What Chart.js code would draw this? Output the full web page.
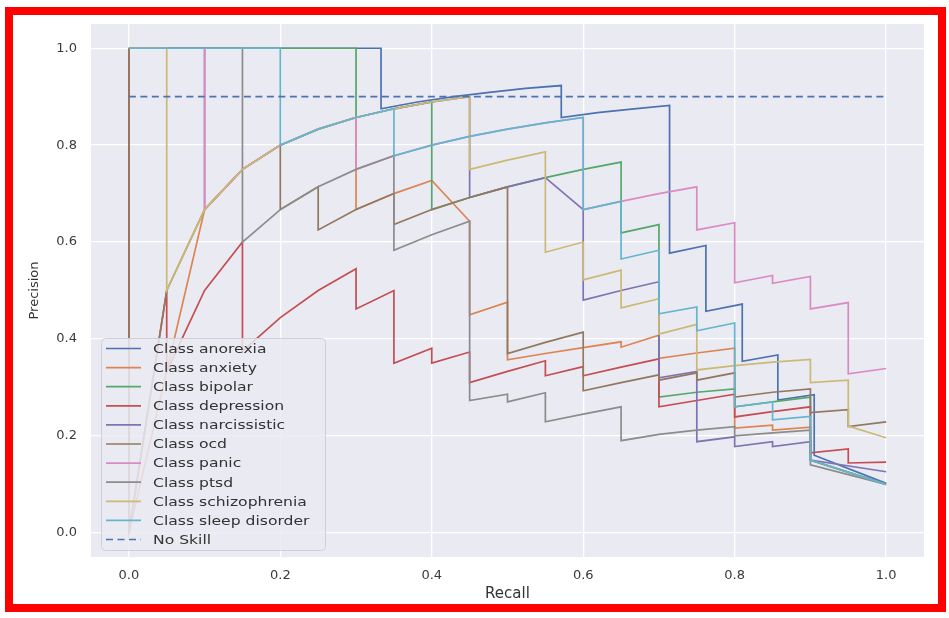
<!DOCTYPE html>
<html lang="en">
<head>
<meta charset="UTF-8">
<title>Precision-Recall curves</title>
<style>
body {
    margin: 0;
    background: white;
}
#wrap {
    position: relative;
    width: 949px;
    height: 618px;
    overflow: hidden;
}
#chart {
    position: absolute;
    left: 0;
    top: 0;
}
#frame {
    position: absolute;
    left: 5px;
    top: 7px;
    width: 941px;
    height: 605px;
    border: 8px solid #ff0000;
    box-sizing: border-box;
    pointer-events: none;
}
</style>
</head>
<body>
<div id="wrap">
    <canvas id="chart" width="949" height="618"></canvas>
    <div id="frame"></div>
</div>

<script src="https://cdn.jsdelivr.net/npm/chart.js"></script>
<script>
// [recall, precision] points of each class
const anorexia = [[0,1],[0.333,1],[0.333,0.875],[0.381,0.889],[0.429,0.9],[0.476,0.909],[0.524,0.917],[0.571,0.923],[0.571,0.857],[0.619,0.867],[0.667,0.875],[0.714,0.882],[0.714,0.577],[0.762,0.593],[0.762,0.457],[0.81,0.472],[0.81,0.354],[0.857,0.367],[0.857,0.274],[0.905,0.285],[0.905,0.16],[1,0.102]];
const anxiety = [[0,1],[0,0],[0.1,0.667],[0.15,0.75],[0.2,0.8],[0.25,0.833],[0.3,0.857],[0.3,0.667],[0.35,0.7],[0.4,0.727],[0.45,0.643],[0.45,0.45],[0.5,0.476],[0.5,0.357],[0.55,0.37],[0.6,0.382],[0.65,0.394],[0.65,0.383],[0.7,0.408],[0.7,0.36],[0.75,0.371],[0.8,0.381],[0.8,0.216],[0.85,0.222],[0.85,0.212],[0.9,0.218],[0.9,0.15],[1,0.1]];
const bipolar = [[0,1],[0.3,1],[0.3,0.857],[0.35,0.875],[0.4,0.889],[0.4,0.667],[0.45,0.692],[0.5,0.714],[0.55,0.733],[0.6,0.75],[0.65,0.765],[0.65,0.619],[0.7,0.636],[0.7,0.28],[0.75,0.29],[0.8,0.297],[0.8,0.26],[0.85,0.27],[0.9,0.28],[0.9,0.15],[1,0.1]];
const depression = [[0,1],[0,0],[0.05,0.5],[0.05,0.333],[0.1,0.5],[0.15,0.6],[0.15,0.375],[0.2,0.444],[0.25,0.5],[0.3,0.545],[0.3,0.462],[0.35,0.5],[0.35,0.35],[0.4,0.381],[0.4,0.35],[0.45,0.373],[0.45,0.31],[0.5,0.333],[0.55,0.355],[0.55,0.324],[0.6,0.343],[0.6,0.324],[0.65,0.342],[0.7,0.359],[0.7,0.26],[0.75,0.273],[0.8,0.286],[0.8,0.239],[0.85,0.25],[0.9,0.26],[0.9,0.165],[0.95,0.173],[0.95,0.144],[1,0.146]];
const narcissistic = [[0,1],[0.1,1],[0.1,0.667],[0.15,0.75],[0.2,0.8],[0.25,0.833],[0.3,0.857],[0.35,0.875],[0.4,0.889],[0.45,0.9],[0.45,0.692],[0.5,0.714],[0.55,0.733],[0.6,0.667],[0.6,0.48],[0.65,0.5],[0.7,0.518],[0.7,0.32],[0.75,0.333],[0.75,0.188],[0.8,0.198],[0.8,0.178],[0.85,0.188],[0.85,0.178],[0.9,0.188],[0.9,0.15],[1,0.126]];
const ocd = [[0,1],[0,0],[0.05,0.5],[0.1,0.667],[0.15,0.75],[0.2,0.8],[0.2,0.667],[0.25,0.714],[0.25,0.625],[0.3,0.667],[0.35,0.7],[0.35,0.636],[0.4,0.667],[0.45,0.692],[0.5,0.714],[0.5,0.37],[0.55,0.393],[0.6,0.414],[0.6,0.293],[0.65,0.31],[0.7,0.326],[0.7,0.315],[0.75,0.33],[0.75,0.315],[0.8,0.33],[0.8,0.28],[0.85,0.29],[0.9,0.297],[0.9,0.248],[0.95,0.254],[0.95,0.219],[1,0.229]];
const panic = [[0,1],[0.1,1],[0.1,0.667],[0.15,0.75],[0.2,0.8],[0.25,0.833],[0.3,0.857],[0.3,0.75],[0.35,0.778],[0.4,0.8],[0.45,0.818],[0.5,0.833],[0.55,0.846],[0.6,0.857],[0.6,0.667],[0.65,0.684],[0.7,0.7],[0.75,0.714],[0.75,0.625],[0.8,0.64],[0.8,0.516],[0.85,0.531],[0.85,0.515],[0.9,0.529],[0.9,0.462],[0.95,0.475],[0.95,0.328],[1,0.339]];
const ptsd = [[0,1],[0.15,1],[0.15,0.6],[0.2,0.667],[0.25,0.714],[0.3,0.75],[0.35,0.778],[0.35,0.583],[0.4,0.615],[0.45,0.643],[0.45,0.273],[0.5,0.286],[0.5,0.27],[0.55,0.289],[0.55,0.229],[0.6,0.245],[0.65,0.26],[0.65,0.19],[0.7,0.203],[0.75,0.212],[0.8,0.219],[0.8,0.2],[0.85,0.206],[0.9,0.212],[0.9,0.14],[1,0.1]];
const schizophrenia = [[0,1],[0.05,1],[0.05,0.5],[0.1,0.667],[0.15,0.75],[0.2,0.8],[0.25,0.833],[0.3,0.857],[0.35,0.875],[0.4,0.889],[0.45,0.9],[0.45,0.75],[0.5,0.769],[0.55,0.786],[0.55,0.579],[0.6,0.6],[0.6,0.522],[0.65,0.542],[0.65,0.464],[0.7,0.483],[0.7,0.41],[0.75,0.43],[0.75,0.336],[0.8,0.345],[0.85,0.352],[0.9,0.358],[0.9,0.31],[0.95,0.315],[0.95,0.22],[1,0.196]];
const sleepDisorder = [[0,1],[0.2,1],[0.2,0.8],[0.25,0.833],[0.3,0.857],[0.35,0.875],[0.35,0.778],[0.4,0.8],[0.45,0.818],[0.5,0.833],[0.55,0.846],[0.6,0.857],[0.6,0.667],[0.65,0.684],[0.65,0.565],[0.7,0.583],[0.7,0.452],[0.75,0.466],[0.75,0.417],[0.8,0.433],[0.8,0.26],[0.85,0.27],[0.85,0.233],[0.9,0.24],[0.9,0.15],[1,0.1]];
const noSkill = [[0,0.9],[1,0.9]];

const classLabels = ['Class anorexia', 'Class anxiety', 'Class bipolar', 'Class depression', 'Class narcissistic',
    'Class ocd', 'Class panic', 'Class ptsd', 'Class schizophrenia', 'Class sleep disorder'];
const classCurves = [anorexia, anxiety, bipolar, depression, narcissistic, ocd, panic, ptsd, schizophrenia, sleepDisorder];
const colors = ['#4c72b0', '#dd8452', '#55a868', '#c44e52', '#8172b3', '#937860', '#da8bc3', '#8c8c8c', '#ccb974', '#64b5cd'];
const recallTicks = [0, 0.2, 0.4, 0.6, 0.8, 1.0];
const precisionTicks = [0, 0.2, 0.4, 0.6, 0.8, 1.0];

const toXY = pts => pts.map(p => ({x: p[0], y: p[1]}));

const datasets = classCurves.map((pts, i) => ({
    label: classLabels[i],
    data: toXY(pts),
    borderColor: colors[i],
    borderWidth: 1.7,
    pointRadius: 0,
    tension: 0,
    fill: false,
    order: 20 - i
}));
datasets.push({
    label: 'No Skill',
    data: toXY(noSkill),
    borderColor: '#4c72b0',
    borderWidth: 1.7,
    borderDash: [7, 4.5],
    pointRadius: 0,
    fill: false,
    order: 0
});

// grey axes background like seaborn darkgrid
const plotBg = {
    id: 'plotBg',
    beforeDraw(chart) {
        const {ctx, chartArea: a} = chart;
        ctx.save();
        ctx.fillStyle = '#eaeaf2';
        ctx.fillRect(a.left, a.top, a.right - a.left, a.bottom - a.top);
        ctx.restore();
    }
};

// matplotlib-style legend box in the lower left
const boxLegend = {
    id: 'boxLegend',
    afterDatasetsDraw(chart) {
        const ctx = chart.ctx;
        ctx.save();
        ctx.beginPath();
        ctx.roundRect(101.5, 338.5, 224, 212, 4);
        ctx.fillStyle = 'rgba(234,234,242,0.85)';
        ctx.fill();
        ctx.strokeStyle = '#d0d0d8';
        ctx.lineWidth = 1;
        ctx.stroke();
        const sets = chart.data.datasets;
        sets.forEach((ds, i) => {
            const y = 348.5 + i * 19.1;
            ctx.beginPath();
            ctx.setLineDash(ds.borderDash || []);
            ctx.strokeStyle = ds.borderColor;
            ctx.lineWidth = 1.7;
            ctx.moveTo(106, y);
            ctx.lineTo(141, y);
            ctx.stroke();
            ctx.setLineDash([]);
            ctx.save();
            ctx.translate(153, y);
            ctx.scale(1.2, 1);
            ctx.fillStyle = '#333';
            ctx.font = '13px "DejaVu Sans"';
            ctx.textBaseline = 'middle';
            ctx.fillText(ds.label, 0, 1);
            ctx.restore();
        });
        ctx.restore();
    }
};

const tickFont = {family: 'DejaVu Sans', size: 13};

new Chart(document.getElementById('chart'), {
    type: 'line',
    data: {datasets: datasets},
    options: {
        responsive: false,
        animation: false,
        devicePixelRatio: 1,
        layout: {padding: {left: 0, right: 25, top: 24, bottom: 0}},
        plugins: {
            legend: {display: false},
            tooltip: {enabled: false}
        },
        scales: {
            x: {
                type: 'linear',
                min: -0.05,
                max: 1.05,
                afterBuildTicks: s => { s.ticks = recallTicks.map(v => ({value: v})); },
                afterFit: s => { s.height = 61; },
                ticks: {
                    callback: v => Number(v).toFixed(1),
                    font: tickFont,
                    color: '#3a3a3a',
                    padding: 11
                },
                grid: {color: '#ffffff', lineWidth: 1.3, drawTicks: false},
                border: {display: false},
                title: {
                    display: true,
                    text: 'Recall',
                    font: {family: 'DejaVu Sans', size: 15},
                    color: '#333',
                    padding: {top: 0, bottom: 15}
                }
            },
            y: {
                type: 'linear',
                min: -0.05,
                max: 1.05,
                afterBuildTicks: s => { s.ticks = precisionTicks.map(v => ({value: v})); },
                afterFit: s => { s.width = 91; },
                ticks: {
                    callback: v => Number(v).toFixed(1),
                    font: tickFont,
                    color: '#3a3a3a',
                    padding: 14
                },
                grid: {color: '#ffffff', lineWidth: 1.3, drawTicks: false},
                border: {display: false},
                title: {
                    display: true,
                    text: 'Precision',
                    font: {family: 'DejaVu Sans', size: 13},
                    color: '#333',
                    padding: {top: 27, bottom: 0}
                }
            }
        }
    },
    plugins: [plotBg, boxLegend]
});
</script>
</body>
</html>
